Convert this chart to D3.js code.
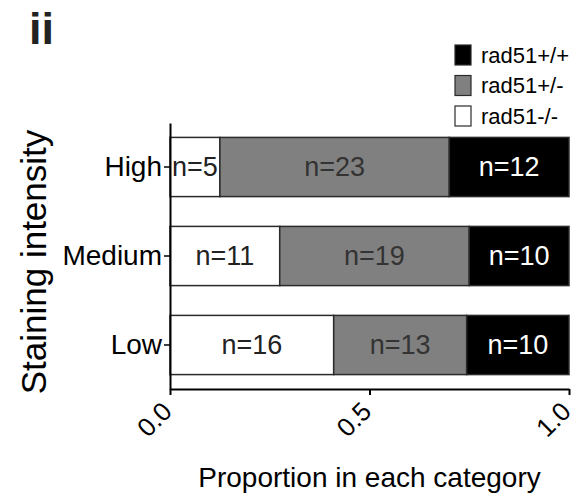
<!DOCTYPE html>
<html>
<head>
<meta charset="utf-8">
<script src="https://cdn.jsdelivr.net/npm/d3@7/dist/d3.min.js"></script>
<style>
  html, body { margin: 0; padding: 0; background: #fff; }
  svg { display: block; font-family: "Liberation Sans", Arial, Helvetica, sans-serif; }
</style>
</head>
<body>
<svg id="chart" width="579" height="502"></svg>
<script>
// Staining intensity categories (top to bottom)
const categories = ["High", "Medium", "Low"];
// Genotype series, in stacking order from the left
const genotypes = ["rad51-/-", "rad51+/-", "rad51+/+"];
// Number of embryos per genotype within each category
const countsNull = [5, 11, 16];   // rad51-/-
const countsHet  = [23, 19, 13];  // rad51+/-
const countsWT   = [12, 10, 10];  // rad51+/+
// Axis tick values
const xTickValues = [0, 0.5, 1.0];

const seriesCounts = [countsNull, countsHet, countsWT];
const fills = ["#ffffff", "#808080", "#000000"];
const textFills = ["#222222", "#333333", "#ffffff"];

// Build rows of proportions from the counts
const rows = categories.map((c, i) => {
  const total = seriesCounts.reduce((s, arr) => s + arr[i], 0);
  const row = { category: c };
  genotypes.forEach((g, k) => {
    row[g] = seriesCounts[k][i] / total;
    row[g + "_n"] = seriesCounts[k][i];
  });
  return row;
});

const stacked = d3.stack().keys(genotypes)(rows);

const svg = d3.select("#chart");
const plotLeft = 170, plotRight = 569, plotTop = 123, plotBottom = 389;

const x = d3.scaleLinear().domain([0, 1]).range([plotLeft, plotRight]);
const y = d3.scaleBand().domain(categories).range([plotTop, plotBottom])
  .paddingInner(0.335).paddingOuter(0.162);

// Bars
const layers = svg.append("g").selectAll("g")
  .data(stacked).join("g")
  .attr("fill", (d, k) => fills[k]);

layers.selectAll("rect")
  .data(d => d.map(seg => ({ seg, key: d.key })))
  .join("rect")
  .attr("x", d => x(d.seg[0]))
  .attr("y", d => y(d.seg.data.category))
  .attr("width", d => x(d.seg[1]) - x(d.seg[0]))
  .attr("height", y.bandwidth())
  .attr("stroke", "#2a2a2a")
  .attr("stroke-width", 1.5);

// Count labels centred in each segment
stacked.forEach((layer, k) => {
  svg.append("g").selectAll("text")
    .data(layer).join("text")
    .attr("x", d => (x(d[0]) + x(d[1])) / 2)
    .attr("y", d => y(d.data.category) + y.bandwidth() / 2)
    .attr("dy", "0.35em")
    .attr("text-anchor", "middle")
    .attr("font-size", 27)
    .attr("fill", textFills[k])
    .text(d => "n=" + d.data[layer.key + "_n"]);
});

// X axis
const xAxis = svg.append("g")
  .attr("transform", `translate(0,${plotBottom})`)
  .call(d3.axisBottom(x).tickValues(xTickValues).tickSize(6).tickSizeOuter(0)
    .tickFormat(d3.format(".1f")));
xAxis.select(".domain").attr("stroke", "#000").attr("stroke-width", 2);
xAxis.selectAll(".tick line").attr("stroke", "#000").attr("stroke-width", 2);
xAxis.selectAll(".tick text")
  .attr("font-size", 26)
  .attr("fill", "#000")
  .attr("text-anchor", "end")
  .attr("dy", 0)
  .attr("y", 0)
  .attr("transform", "translate(3,24) rotate(-45)");

// Y axis
const yAxis = svg.append("g")
  .attr("transform", `translate(${plotLeft},0)`)
  .call(d3.axisLeft(y).tickSize(6).tickPadding(2).tickSizeOuter(0));
yAxis.select(".domain").attr("stroke", "#000").attr("stroke-width", 2);
yAxis.selectAll(".tick line").attr("stroke", "#000").attr("stroke-width", 1.5);
yAxis.selectAll(".tick text")
  .attr("font-size", 28)
  .attr("fill", "#000");

// Axis titles
svg.append("text")
  .attr("x", x(0.5))
  .attr("y", 487)
  .attr("text-anchor", "middle")
  .attr("font-size", 28)
  .attr("fill", "#000")
  .text("Proportion in each category");

svg.append("text")
  .attr("transform", "translate(46,262) rotate(-90)")
  .attr("text-anchor", "middle")
  .attr("font-size", 35)
  .attr("fill", "#000")
  .text("Staining intensity");

// Panel label
svg.append("text")
  .attr("x", 29)
  .attr("y", 44)
  .attr("font-size", 45)
  .attr("font-weight", "bold")
  .attr("fill", "#222")
  .text("ii");

// Legend (wild type on top)
const legendOrder = [2, 1, 0];
const legend = svg.append("g").selectAll("g")
  .data(legendOrder).join("g")
  .attr("transform", (k, i) => `translate(455,${45 + i * 30.5})`);
legend.append("rect")
  .attr("width", 16).attr("height", 20)
  .attr("fill", k => fills[k])
  .attr("stroke", "#2a2a2a").attr("stroke-width", 1.2);
legend.append("text")
  .attr("x", 26).attr("y", 10).attr("dy", "0.35em")
  .attr("font-size", 22)
  .attr("fill", "#000")
  .text(k => genotypes[k]);
</script>
</body>
</html>
